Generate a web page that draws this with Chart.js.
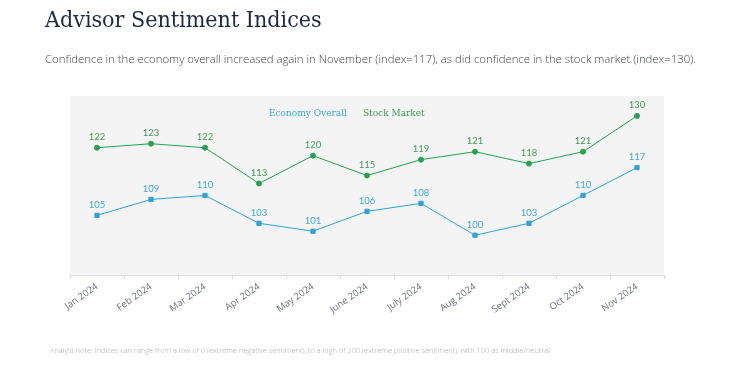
<!DOCTYPE html>
<html>
<head>
<meta charset="utf-8">
<script src="https://cdn.jsdelivr.net/npm/chart.js@4"></script>
<style>
  html, body { margin: 0; padding: 0; background: #fff; }
  #wrap { position: relative; width: 750px; height: 375px; overflow: hidden; }
  #chart { position: absolute; left: 0; top: 0; }
  .txt { position: absolute; white-space: nowrap; }
  #title { left: 45px; top: 6px; font: 23px "DejaVu Serif", serif; font-stretch: condensed; color: #1c2845; }
  #sub { left: 45px; top: 51px; font: 300 11.35px "Open Sans", sans-serif; color: #3f434a; }
  #note { left: 50px; top: 345px; font: 300 7.45px "Open Sans", sans-serif; color: #a9a9a9; }
</style>
</head>
<body>
<div id="wrap">
  <canvas id="chart" width="750" height="375"></canvas>
  <div class="txt" id="title">Advisor Sentiment Indices</div>
  <div class="txt" id="sub">Confidence in the economy overall increased again in November (index=117), as did confidence in the stock market (index=130).</div>
  <div class="txt" id="note">Analyst note: Indices can range from a low of 0 (extreme negative sentiment), to a high of 200 (extreme positive sentiment), with 100 as middle/neutral.</div>
</div>
<script>
// ---- data ----
const months = ['Jan 2024', 'Feb 2024', 'Mar 2024', 'Apr 2024', 'May 2024', 'June 2024',
                'July 2024', 'Aug 2024', 'Sept 2024', 'Oct 2024', 'Nov 2024'];
const economyOverall = [105, 109, 110, 103, 101, 106, 108, 100, 103, 110, 117];
const stockMarket    = [122, 123, 122, 113, 120, 115, 119, 121, 118, 121, 130];

const BLUE  = '#2ea3d8';
const GREEN = '#21a44e';

// gray panel behind the plot
const panelBg = {
  id: 'panelBg',
  beforeDraw(chart) {
    const { ctx, chartArea: a } = chart;
    ctx.save();
    ctx.fillStyle = '#f4f4f4';
    ctx.fillRect(a.left, a.top, a.right - a.left, a.bottom - a.top);
    ctx.restore();
  }
};

// value labels above every point
const valueLabels = {
  id: 'valueLabels',
  afterDatasetsDraw(chart) {
    const ctx = chart.ctx;
    ctx.save();
    ctx.font = '9.5px Lato, sans-serif';
    ctx.textAlign = 'center';
    ctx.textBaseline = 'middle';
    chart.data.datasets.forEach((ds, i) => {
      ctx.fillStyle = ds.labelColor;
      chart.getDatasetMeta(i).data.forEach((pt, j) => {
        ctx.fillText(ds.data[j], pt.x, pt.y - 10.5);
      });
    });
    ctx.restore();
  }
};

// text-only legend sitting inside the panel
const textLegend = {
  id: 'textLegend',
  afterDraw(chart) {
    const { ctx, chartArea: a } = chart;
    ctx.save();
    ctx.font = '10px "DejaVu Serif", serif';
    ctx.fontStretch = 'condensed';
    ctx.textBaseline = 'middle';
    let x = a.left + 199;
    chart.data.datasets.forEach((ds) => {
      ctx.fillStyle = ds.labelColor;
      ctx.fillText(ds.label, x, a.top + 17);
      x += ctx.measureText(ds.label).width + 16;
    });
    ctx.restore();
  }
};

new Chart(document.getElementById('chart'), {
  type: 'line',
  data: {
    labels: months,
    datasets: [
      {
        label: 'Economy Overall',
        data: economyOverall,
        borderColor: BLUE,
        backgroundColor: BLUE,
        labelColor: '#3ba7da',
        borderWidth: 1,
        pointStyle: 'rect',
        pointRadius: 3,
        tension: 0,
      },
      {
        label: 'Stock Market',
        data: stockMarket,
        borderColor: GREEN,
        backgroundColor: GREEN,
        labelColor: '#3f9b57',
        borderWidth: 1,
        pointStyle: 'circle',
        pointRadius: 2.5,
        tension: 0,
      },
    ],
  },
  options: {
    responsive: false,
    animation: false,
    layout: { padding: { left: 70, right: 86, top: 96, bottom: 0 } },
    plugins: {
      legend: { display: false },
      tooltip: { enabled: false },
    },
    scales: {
      x: {
        offset: true,
        grid: { offset: true, drawOnChartArea: false, color: '#d8d8d8', tickLength: 4 },
        border: { color: '#dcdcdc' },
        ticks: {
          color: '#6b7080',
          font: { family: '"Open Sans", sans-serif', size: 9.5 },
          minRotation: 35,
          maxRotation: 35,
          padding: 2,
        },
        afterFit(scale) { scale.height = 100; },
      },
      y: { display: false, min: 90, max: 135 },
    },
  },
  plugins: [panelBg, valueLabels, textLegend],
});
</script>
</body>
</html>
